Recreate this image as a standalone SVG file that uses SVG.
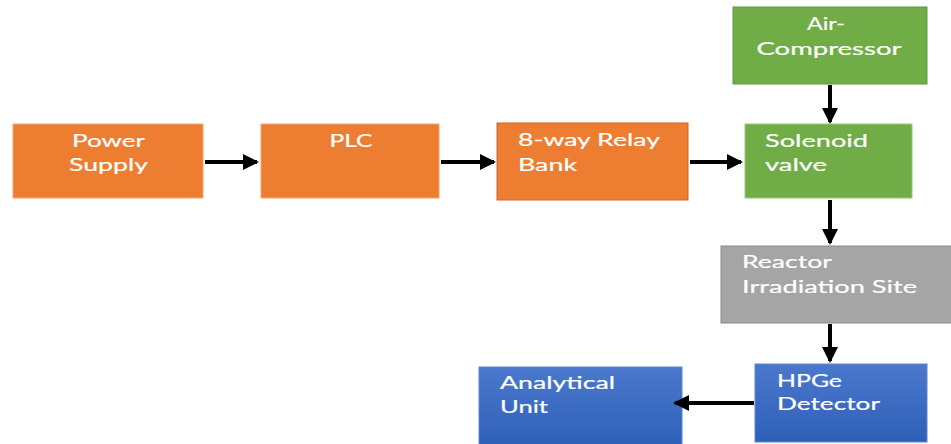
<svg xmlns="http://www.w3.org/2000/svg" width="951" height="444" viewBox="0 0 951 444">
<style>
.t{font-family:Lato,"Liberation Sans",sans-serif;font-size:17.5px;fill:#fff;stroke:#fff;stroke-width:0.2}
.c{text-anchor:middle}
.con{stroke:#000;stroke-width:4;fill:none;marker-end:url(#ah)}
</style>
<defs>
<marker id="ah" markerWidth="4" markerHeight="4" refX="3.5" refY="2" orient="auto" markerUnits="strokeWidth">
<path d="M0,0 L4,2 L0,4 Z" fill="#000"/>
</marker>
<linearGradient id="bl" x1="0" y1="0" x2="0" y2="1">
<stop offset="0" stop-color="#4a78cc"/>
<stop offset="1" stop-color="#2f60b8"/>
</linearGradient>
</defs>
<rect width="951" height="444" fill="#fff"/>
<g id="power-supply">
<rect x="13" y="124" width="190" height="74" fill="#ED7D31" stroke="#f4a574" stroke-width="1"/>
<text class="t c" x="108.5" y="147" textLength="73" lengthAdjust="spacingAndGlyphs">Power</text>
<text class="t c" x="108.5" y="171" textLength="79" lengthAdjust="spacingAndGlyphs">Supply</text>
</g>
<g id="plc">
<rect x="261" y="124" width="178" height="74" fill="#ED7D31" stroke="#f4a574" stroke-width="1"/>
<text class="t c" x="351" y="147" textLength="43" lengthAdjust="spacingAndGlyphs">PLC</text>
</g>
<g id="relay-bank">
<rect x="497" y="123" width="191" height="77" fill="#ED7D31" stroke="#c9672a" stroke-width="1"/>
<text class="t" x="518" y="146" textLength="142" lengthAdjust="spacingAndGlyphs">8-way Relay</text>
<text class="t" x="518" y="171" textLength="59" lengthAdjust="spacingAndGlyphs">Bank</text>
</g>
<g id="air-compressor">
<rect x="733" y="7" width="194" height="77" fill="#70AD47" stroke="#5f9a3c" stroke-width="1"/>
<text class="t c" x="826" y="30" textLength="38" lengthAdjust="spacingAndGlyphs">Air-</text>
<text class="t c" x="829" y="55" textLength="145" lengthAdjust="spacingAndGlyphs">Compressor</text>
</g>
<g id="solenoid-valve">
<rect x="745" y="124" width="167" height="74" fill="#70AD47" stroke="#9cc77f" stroke-width="1"/>
<text class="t" x="765" y="147" textLength="103" lengthAdjust="spacingAndGlyphs">Solenoid</text>
<text class="t" x="765" y="171" textLength="62" lengthAdjust="spacingAndGlyphs">valve</text>
</g>
<g id="reactor">
<rect x="721" y="246" width="231" height="77" fill="#A5A5A5" stroke="#8a8a8a" stroke-width="1"/>
<text class="t" x="742" y="268" textLength="90" lengthAdjust="spacingAndGlyphs">Reactor</text>
<text class="t" x="742" y="293" textLength="175" lengthAdjust="spacingAndGlyphs">Irradiation Site</text>
</g>
<g id="hpge-detector">
<rect x="755" y="364" width="172" height="78" fill="url(#bl)" stroke="#5d86d0" stroke-width="1"/>
<text class="t" x="777" y="387" textLength="65" lengthAdjust="spacingAndGlyphs">HPGe</text>
<text class="t" x="777" y="410" textLength="103" lengthAdjust="spacingAndGlyphs">Detector</text>
</g>
<g id="analytical-unit">
<rect x="479" y="367" width="203" height="80" fill="url(#bl)" stroke="#5d86d0" stroke-width="1"/>
<text class="t" x="500" y="389" textLength="115" lengthAdjust="spacingAndGlyphs">Analytical</text>
<text class="t" x="500" y="413" textLength="48" lengthAdjust="spacingAndGlyphs">Unit</text>
</g>
<g id="connectors">
<line class="con" x1="205" y1="162" x2="257" y2="162"/>
<line class="con" x1="441" y1="162" x2="494" y2="162"/>
<line class="con" x1="690" y1="162" x2="741" y2="162"/>
<line class="con" x1="830" y1="85" x2="830" y2="122"/>
<line class="con" x1="830" y1="200" x2="830" y2="243"/>
<line class="con" x1="830" y1="324" x2="830" y2="361"/>
<line class="con" x1="754" y1="403" x2="675" y2="403"/>
</g>
</svg>
